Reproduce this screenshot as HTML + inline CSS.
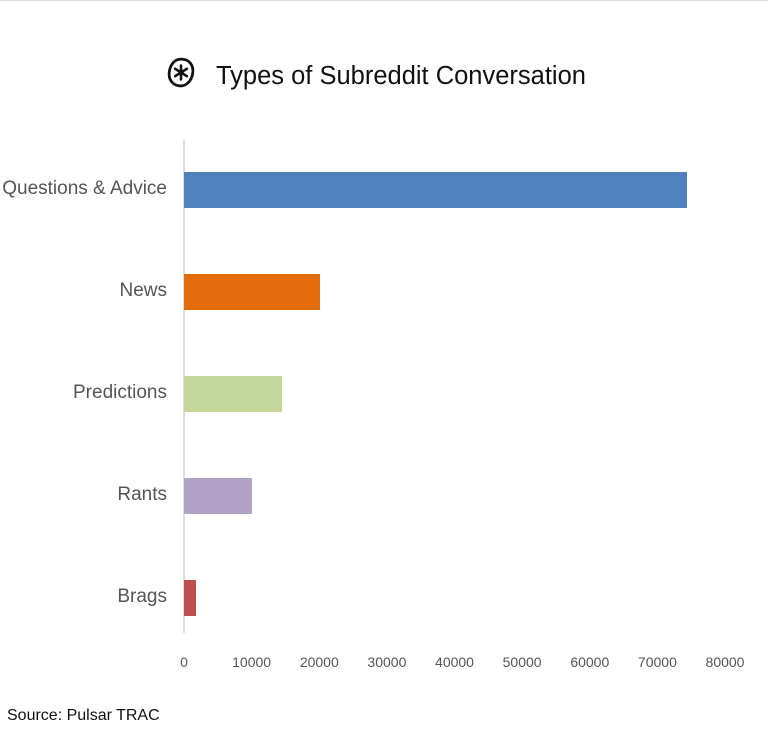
<!DOCTYPE html>
<html><head><meta charset="utf-8"><style>
body{margin:0;width:768px;height:739px;background:#fff;position:relative;overflow:hidden;font-family:"Liberation Sans",sans-serif;}
.a{position:absolute}
.lab{position:absolute;right:601px;font-size:19px;color:#555;text-align:right;white-space:nowrap}
.tk{position:absolute;top:654px;font-size:14px;color:#555;width:60px;margin-left:-30px;text-align:center}
.bar{position:absolute;left:184px;height:36px}
</style></head><body>
<div class="a" style="left:0;top:0;width:768px;height:1px;background:#ddd"></div>
<svg class="a" style="left:166px;top:57px" width="30" height="32" viewBox="0 0 28 30">
<path d="M14 2 C22 2 26 8 25 15 C24 23 18 28 12 27 C6 26 2 21 3 14 C4 7 8 2 14 2 Z" fill="none" stroke="#111" stroke-width="2.6"/>
<g stroke="#111" stroke-width="2.4" stroke-linecap="round"><line x1="14" y1="8" x2="14" y2="21"/><line x1="8.5" y1="11" x2="19.5" y2="18"/><line x1="8.5" y1="18" x2="19.5" y2="11"/></g></svg>
<div class="a" style="left:216px;top:62px;font-size:25.5px;color:#111">Types of Subreddit Conversation</div>
<div class="a" style="left:183px;top:140px;width:2px;height:493px;background:#ddd"></div>
<div class="bar" style="top:172px;width:503px;background:#4e81bd"></div>
<div class="bar" style="top:274px;width:136px;background:#e46c0a"></div>
<div class="bar" style="top:376px;width:98px;background:#c4d79b"></div>
<div class="bar" style="top:478px;width:68px;background:#b3a2c7"></div>
<div class="bar" style="top:580px;width:12px;background:#c0504d"></div>
<div class="lab" style="top:178px">Questions &amp; Advice</div>
<div class="lab" style="top:280px">News</div>
<div class="lab" style="top:382px">Predictions</div>
<div class="lab" style="top:484px">Rants</div>
<div class="lab" style="top:586px">Brags</div>
<div class="tk" style="left:184px">0</div>
<div class="tk" style="left:251.6px">10000</div>
<div class="tk" style="left:319.3px">20000</div>
<div class="tk" style="left:386.9px">30000</div>
<div class="tk" style="left:454.5px">40000</div>
<div class="tk" style="left:522.1px">50000</div>
<div class="tk" style="left:589.8px">60000</div>
<div class="tk" style="left:657.4px">70000</div>
<div class="tk" style="left:725px">80000</div>
<div class="a" style="left:7px;top:707px;font-size:16px;color:#111">Source: Pulsar TRAC</div>
</body></html>
